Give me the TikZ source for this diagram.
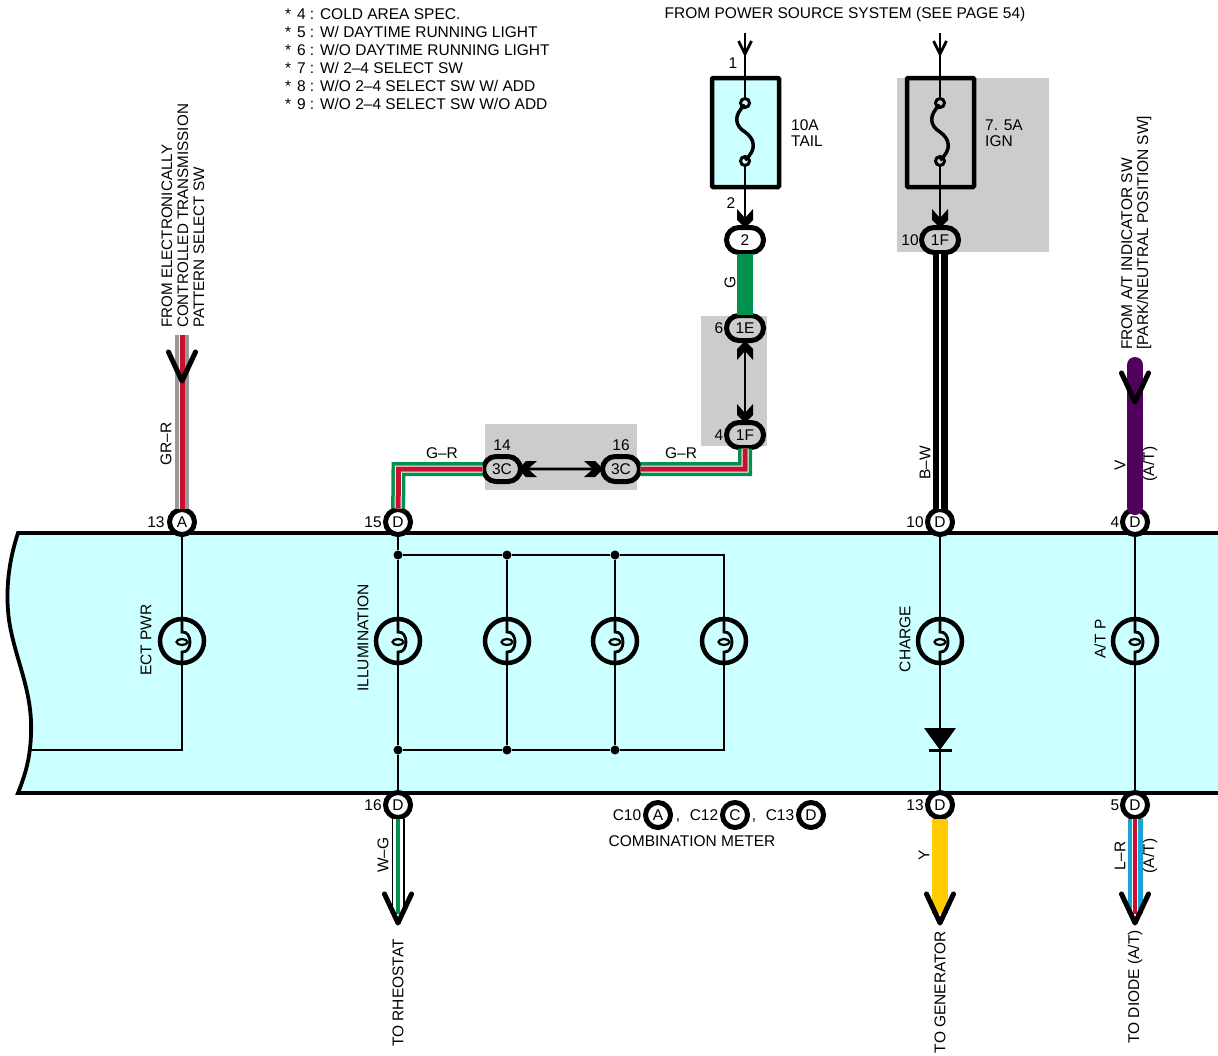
\documentclass[tikz,border=0pt]{standalone}
\usepackage{fontspec}
\setmainfont{Liberation Sans}
\usetikzlibrary{arrows,%
                shapes,positioning}

\definecolor{meterbg}{HTML}{CCFFFF}
\definecolor{greybg}{HTML}{CCCCCC}
\definecolor{wgreen}{HTML}{00924F}
\definecolor{wred}{HTML}{CC0F2F}
\definecolor{wblue}{HTML}{16A5D6}
\definecolor{wgray}{HTML}{999999}
\definecolor{wviolet}{HTML}{52005E}
\definecolor{wyellow}{HTML}{FFCC00}

\tikzset{
  txt/.style={inner sep=0pt,align=left,font=\fontsize{15.5}{16}\selectfont},
  rtxt/.style={txt,rotate=90},
  conn/.style={txt,circle,draw,line width=5pt,fill=white,minimum size=25pt},
  pill/.style={txt,rounded rectangle,draw,line width=5pt,minimum width=37pt,minimum height=25pt},
  bulb/.style={circle,draw,line width=4.5pt,minimum size=44pt,inner sep=0pt},
  fuse/.style={rectangle,draw,line width=4.5pt,minimum width=67pt,minimum height=109pt,rounded corners=1pt},
  ring/.style={circle,draw,line width=3pt,minimum size=9pt,inner sep=0pt},
  dot/.style={circle,fill,minimum size=9pt,inner sep=0pt},
  wire/.style={line width=2.8pt},
  joined/.style={shorten <=-1.5pt,shorten >=-1.5pt},
  wireGR/.style={joined,line width=5pt,wred,preaction={draw,wgreen,line width=14pt},preaction={draw,white,line width=7pt}},
  wireGY/.style={joined,line width=5pt,wred,preaction={draw,wgray,line width=14pt},preaction={draw,white,line width=6.5pt}},
  wireLR/.style={joined,line width=4.5pt,wred,preaction={draw,wblue,line width=15pt},preaction={draw,white,line width=6.5pt}},
  wireWG/.style={joined,line width=4pt,wgreen,preaction={draw,black,line width=13pt},preaction={draw,white,line width=10.5pt}},
  wireBW/.style={joined,line width=2.5pt,white,preaction={draw,black,line width=15pt}},
  chev/.pic={\fill (0,0) -- (8,-8) -- (8,-19) -- (0,-10) -- (-8,-19) -- (-8,-8) -- cycle;},
  bigvee/.pic={\draw[line width=5pt,line cap=round,line join=round] (-13.5,-29) -- (0,0) -- (13.5,-29);},
  smallvee/.pic={\draw[wire,line join=round] (-6.5,-13) -- (0,0) -- (6.5,-13);},
  fusecurve/.pic={\draw[line width=3.5pt] (0,-27) .. controls (-12,-17) and (-10,-6) .. (0,0) .. controls (10,7) and (12,18) .. (0,28);}
}

\newcommand{\Bulb}[2]{
\node[bulb] (#1) at (#2,641) {};
\draw[wire] (#1.north) -- (#2,632) .. controls ({#2+10.7},631) and ({#2+10.7},653) .. (#2,652) -- (#1.south);
\draw[line width=2.2pt] (#2,642) ellipse (5.5 and 3);
}

\begin{document}
\begin{tikzpicture}[x=1pt,y=-1pt]
\useasboundingbox (0,0) rectangle (1218,1055);

\fill[greybg] (485,424) rectangle (637,490);
\fill[greybg] (701,316) rectangle (767,446);
\fill[greybg] (897,78) rectangle (1049,252);

\draw[line width=3.8pt,fill=meterbg] (1218,533) -- (18,533) .. controls (9,560) and (5,590) .. (9,620) .. controls (15,660) and (33,690) .. (31,735) .. controls (30,760) and (25,775) .. (18,793) -- (1218,793);

\node[fuse,fill=meterbg] (FA) at (745.5,132.5) {};
\node[fuse] (FB) at (940.5,132.5) {};
\node[ring,fill=meterbg] (RA) at (745,103) {};
\node[ring,fill=meterbg] (RB) at (745,161) {};
\node[ring,fill=greybg] (RC) at (940,103) {};
\node[ring,fill=greybg] (RD) at (940,161) {};
\path (745,132) pic {fusecurve};
\path (940,132) pic {fusecurve};

\coordinate (TA) at (745,33);
\coordinate (TB) at (940,33);
\coordinate (TC) at (182,336);
\coordinate (TD) at (1135,365);
\coordinate (EA) at (398,912);
\coordinate (EB) at (940,912);
\coordinate (EC) at (1135,912);
\coordinate (CL) at (398.5,469);
\coordinate (CR) at (745,469);
\coordinate (KA) at (724,555);
\coordinate (KB) at (724,750);
\coordinate (KC) at (182,750);
\coordinate (KD) at (31,750);

\node[conn] (CA) at (182,522) {A};
\node[conn] (CB) at (398,522) {D};
\node[conn] (CC) at (940,522) {D};
\node[conn] (CD) at (1135,522) {D};
\node[conn] (CE) at (398,805) {D};
\node[conn] (CF) at (940,805) {D};
\node[conn] (CG) at (1135,805) {D};

\node[pill,fill=white] (PA) at (745,240) {2};
\node[pill,fill=greybg] (PB) at (940,240) {1F};
\node[pill,fill=greybg] (PC) at (745,328) {1E};
\node[pill,fill=greybg] (PD) at (745,435) {1F};
\node[pill,fill=greybg] (PE) at (621,469) {3C};
\node[pill,fill=greybg] (PF) at (502,469) {3C};

\Bulb{LA}{182}
\Bulb{LB}{398}
\Bulb{LC}{507}
\Bulb{LD}{615}
\Bulb{LE}{724}
\Bulb{LF}{940}
\Bulb{LG}{1135}

\node[dot] (JA) at (398,555) {};
\node[dot] (JB) at (507,555) {};
\node[dot] (JC) at (615,555) {};
\node[dot] (JD) at (398,750) {};
\node[dot] (JE) at (507,750) {};
\node[dot] (JF) at (615,750) {};

\draw[wire] (TA) -- (RA);
\draw[wire] (RB) -- (PA);
\draw[wire] (TB) -- (RC);
\draw[wire] (RD) -- (PB);
\draw[wire] (PC) -- (PD);
\draw[wire] (PF) -- (PE);

\draw[joined,wgreen,line width=16pt] (PA) -- (PC);
\draw[wireBW] (PB) -- (CC);
\draw[wireGR] (PD) -- (CR) -- (PE);
\draw[wireGR] (PF) -- (CL) -- (CB);
\draw[wireGY] (TC) -- (CA);
\draw[wviolet,line width=16pt,line cap=round] (TD) -- (CD);
\draw[wireWG] (CE) -- (EA);
\draw[joined,wyellow,line width=16pt] (CF) -- (EB);
\draw[wireLR] (CG) -- (EC);

\draw[wire] (CA) -- (LA);
\draw[wire] (LA) -- (KC) -- (KD);
\draw[wire] (CB) -- (JA) -- (LB);
\draw[wire] (LB) -- (JD) -- (CE);
\draw[wire] (JA) -- (JB) -- (JC) -- (KA) -- (LE);
\draw[wire] (LE) -- (KB) -- (JF) -- (JE) -- (JD);
\draw[wire] (JB) -- (LC) -- (JE);
\draw[wire] (JC) -- (LD) -- (JF);
\draw[wire] (CC) -- (LF);
\draw[wire] (LF) -- (CF);
\draw[wire] (CD) -- (LG);
\draw[wire] (LG) -- (CG);

\fill (924,728) -- (956,728) -- (940,750) -- cycle;
\draw[wire] (929,750.5) -- (952,750.5);

\path (745,228) pic {chev};
\path (940,228) pic {chev};
\path (745,341) pic[rotate=180] {chev};
\path (745,423) pic {chev};
\path (518,469) pic[rotate=-90] {chev};
\path (603,469) pic[rotate=90] {chev};

\path (745,54) pic {smallvee};
\path (940,54) pic {smallvee};
\path (182,381) pic {bigvee};
\path (1135,402) pic {bigvee};
\path (398,923) pic {bigvee};
\path (940,923) pic {bigvee};
\path (1135,923) pic {bigvee};

\node[txt,font=\fontsize{15.5}{18}\selectfont,anchor=west] (NOTE) at (285,59) {*\hspace{1.5pt} 4 : COLD AREA SPEC.\\*\hspace{1.5pt} 5 : W/ DAYTIME RUNNING LIGHT\\*\hspace{1.5pt} 6 : W/O DAYTIME RUNNING LIGHT\\*\hspace{1.5pt} 7 : W/ 2--4 SELECT SW\\*\hspace{1.5pt} 8 : W/O 2--4 SELECT SW W/ ADD\\*\hspace{1.5pt} 9 : W/O 2--4 SELECT SW W/O ADD};
\node[txt] (SRC) at (845,14) {FROM POWER SOURCE SYSTEM (SEE PAGE 54)};
\node[txt,anchor=west] (AMPA) at (791,133) {10A\\TAIL};
\node[txt,anchor=west] (AMPB) at (985,133) {7. 5A\\IGN};
\node[rtxt,anchor=west,font=\fontsize{15.2}{16}\selectfont] (FROMA) at (183,328) {FROM ELECTRONICALLY\\CONTROLLED TRANSMISSION\\PATTERN SELECT SW};
\node[rtxt,anchor=west] (FROMB) at (1136,350) {FROM A/T INDICATOR SW\\{[}PARK/NEUTRAL POSITION SW{]}};

\node[txt] (NA) at (733,63) {1};
\node[txt] (NB) at (731,203) {2};
\node[txt] (NC) at (910,240) {10};
\node[txt] (ND) at (719,328) {6};
\node[txt] (NE) at (719,435) {4};
\node[txt] (NF) at (502,445) {14};
\node[txt] (NG) at (621,445) {16};
\node[txt] (NH) at (156,522) {13};
\node[txt] (NI) at (373,522) {15};
\node[txt] (NJ) at (915,522) {10};
\node[txt] (NK) at (1115,522) {4};
\node[txt] (NL) at (373,805) {16};
\node[txt] (NM) at (915,805) {13};
\node[txt] (NN) at (1115,805) {5};

\node[txt] (WA) at (442,453) {G--R};
\node[txt] (WB) at (681,453) {G--R};
\node[rtxt] (WC) at (730,282) {G};
\node[rtxt] (WD) at (925,463) {B--W};
\node[rtxt] (WE) at (166,444) {GR--R};
\node[rtxt] (WF) at (1120,465) {V};
\node[rtxt] (WG) at (1150,464) {(A/T)};
\node[rtxt] (WH) at (383,855) {W--G};
\node[rtxt] (WI) at (924,855) {Y};
\node[rtxt] (WJ) at (1120,856) {L--R};
\node[rtxt] (WK) at (1150,856) {(A/T)};

\node[rtxt] (MA) at (146,640) {ECT PWR};
\node[rtxt] (MB) at (363,638) {ILLUMINATION};
\node[rtxt] (MC) at (905,639) {CHARGE};
\node[rtxt] (MD) at (1100,639) {A/T P};

\node[rtxt] (OA) at (398,993) {TO RHEOSTAT};
\node[rtxt] (OB) at (940,992) {TO GENERATOR};
\node[rtxt] (OC) at (1135,987) {TO DIODE (A/T)};

\node[txt] (TCA) at (627,815) {C10};
\node[conn] (GA) at (658,815) {A};
\node[txt,anchor=base] (CMA) at (678,820) {,};
\node[txt] (TCB) at (704,815) {C12};
\node[conn] (GB) at (735,815) {C};
\node[txt,anchor=base] (CMB) at (754,820) {,};
\node[txt] (TCC) at (780,815) {C13};
\node[conn] (GC) at (811,815) {D};
\node[txt] (NAME) at (692,841) {COMBINATION METER};

\end{tikzpicture}
\end{document}
